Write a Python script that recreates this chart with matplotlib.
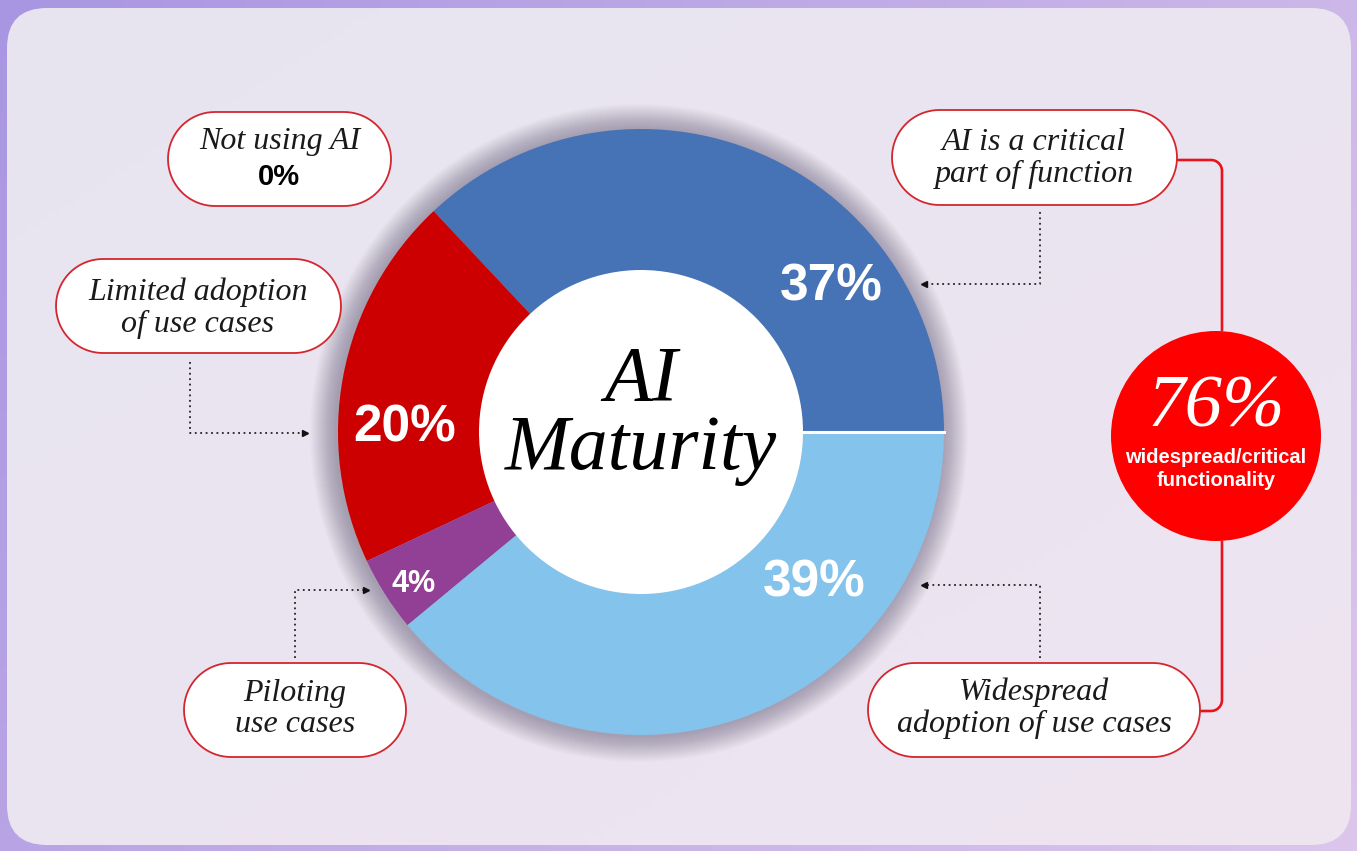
import matplotlib.pyplot as plt
import numpy as np
from matplotlib.patches import FancyBboxPatch, Circle, Polygon
from matplotlib.colors import to_rgb

W, H = 1357, 851

# ---- data
slice_names = ['AI is a critical part of function', 'Limited adoption of use cases',
               'Piloting use cases', 'Widespread adoption of use cases']
slice_values = [37, 20, 4, 39]
slice_colors = ['#4672B6', '#CC0000', '#923F96', '#84C3EC']
not_using_value = 0
combined_value = 76   # widespread + critical
combined_text = 'widespread/critical\nfunctionality'

SERIF = ['Liberation Serif', 'DejaVu Serif']
SANS = ['Liberation Sans', 'DejaVu Sans']

fig = plt.figure(figsize=(W / 100, H / 100), dpi=100)
ax = fig.add_axes([0, 0, 1, 1])

def mix(c1, c2, t):
    a, b = np.array(to_rgb(c1)), np.array(to_rgb(c2))
    return a[None, None, :] * (1 - t[..., None]) + b[None, None, :] * t[..., None]

# outer lavender background
yy, xx = np.mgrid[0:1:120j, 0:1:200j]
bg = mix('#A996E2', '#DCC6EC', np.clip(0.7 * xx + 0.3 * yy, 0, 1))
ax.imshow(bg, extent=(0, W, H, 0), aspect='auto', zorder=0)

# rounded panel
panel = FancyBboxPatch((7, 8), W - 13, H - 14, boxstyle='round,pad=0,rounding_size=40',
                       fc='none', ec='none', zorder=1)
ax.add_patch(panel)
pg = mix('#E7E4F1', '#EEE5F0', np.clip(0.5 * xx + 0.5 * yy, 0, 1))
im = ax.imshow(pg, extent=(0, W, H, 0), aspect='auto', zorder=1)
im.set_clip_path(panel)

# ---- donut
cx, cy, R, r_in = 641, 432, 303, 161
for i in range(26):
    ax.add_patch(Circle((cx - 2, cy + 1), R + 1 + i * 1.0, color='#3a3050', alpha=0.014, lw=0, zorder=2))

wedges, _ = ax.pie(slice_values, colors=slice_colors, startangle=0, counterclock=False,
                   center=(cx, cy), radius=R, wedgeprops=dict(width=R - r_in, linewidth=0))
for w in wedges:
    w.set_zorder(3)
ax.add_patch(Circle((cx, cy), r_in + 1, color='white', lw=0, zorder=4))
# thin white split between the two blue slices
ax.plot([cx + r_in, cx + R], [cy, cy], color='white', lw=2.2, zorder=4)

pct_pos = [(831, 287), (405, 428), (414, 584), (814, 583)]
pct_size = [37, 37, 22, 37]
for v, (x, y), s in zip(slice_values, pct_pos, pct_size):
    ax.text(x, y, f'{v}%', color='white', fontsize=s, fontweight='bold', family=SANS,
            ha='center', va='center', zorder=5)

ax.text(cx, 381, 'AI', fontsize=56, style='italic', family=SERIF, ha='center', va='center', zorder=5)
ax.text(cx, 450, 'Maturity', fontsize=56, style='italic', family=SERIF, ha='center', va='center', zorder=5)

# ---- bubbles (pill shapes)
def bubble(x0, y0, x1, y1):
    rr = (y1 - y0) / 2
    t = np.linspace(-np.pi / 2, np.pi / 2, 40)
    right = np.column_stack([x1 - rr + rr * np.cos(t), (y0 + rr) + rr * np.sin(t)])
    left = np.column_stack([x0 + rr - rr * np.cos(t), (y0 + rr) - rr * np.sin(t)])
    ax.add_patch(Polygon(np.vstack([right, left]), closed=True,
                         fc='white', ec='#D3262E', lw=1.3, zorder=6))

def btext(x, y, s):
    ax.text(x, y, s, fontsize=23, style='italic', family=SERIF, color='#1a1a1a',
            ha='center', va='center', zorder=7)

bubble(168, 112, 391, 206)
btext(280, 142, 'Not using AI')
ax.text(279, 177, f'{not_using_value}%', fontsize=21, fontweight='bold', family=SANS,
        ha='center', va='center', zorder=7)

bubble(56, 259, 341, 353)
btext(198, 292, 'Limited adoption')
btext(198, 324, 'of use cases')

bubble(184, 663, 406, 757)
btext(295, 693, 'Piloting')
btext(295, 725, 'use cases')

bubble(892, 110, 1177, 205)
btext(1034, 142, 'AI is a critical')
btext(1034, 174, 'part of function')

bubble(868, 663, 1200, 757)
btext(1034, 692, 'Widespread')
btext(1034, 724, 'adoption of use cases')

# ---- dotted pointers
def pointer(xs, ys, mk):
    ax.plot(xs, ys, ls=(0, (1, 2)), color='#222222', lw=1.3, zorder=6)
    ax.plot(xs[-1], ys[-1], marker=mk, ms=4, color='#111111', zorder=6)

pointer([190, 190, 305], [362, 433, 433], '>')
pointer([295, 295, 366], [658, 590, 590], '>')
pointer([1040, 1040, 924], [212, 284, 284], '<')
pointer([1040, 1040, 924], [658, 585, 585], '<')

# ---- red bracket and summary circle
def corner(xc, yc, rr, a0, a1):
    t = np.radians(np.linspace(a0, a1, 12))
    return list(xc + rr * np.cos(t)), list(yc + rr * np.sin(t))

rr = 11
ax_, ay_ = corner(1222 - rr, 160 + rr, rr, -90, 0)
ax.plot([1177] + ax_ + [1222], [160] + ay_ + [331], color='#E8141B', lw=1.9,
        solid_capstyle='butt', zorder=5)
bx_, by_ = corner(1222 - rr, 711 - rr, rr, 0, 90)
ax.plot([1222] + bx_ + [1200], [541] + by_ + [711], color='#E8141B', lw=1.9,
        solid_capstyle='butt', zorder=5)

ax.add_patch(Circle((1216, 436), 105, color='#FF0000', lw=0, zorder=6))
ax.text(1216, 409, f'{combined_value}%', fontsize=54, style='italic', family=SERIF,
        color='white', ha='center', va='center', zorder=7)
ax.text(1216, 469, combined_text, fontsize=14.5, fontweight='bold', family=SANS, color='white',
        ha='center', va='center', linespacing=1.3, zorder=7)

ax.set_xlim(0, W)
ax.set_ylim(H, 0)
ax.set_aspect('auto')
ax.axis('off')
fig.savefig('out.png', dpi=100)
